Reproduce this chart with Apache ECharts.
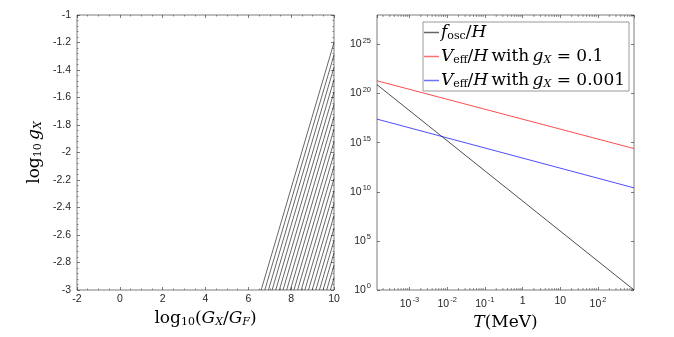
<!DOCTYPE html>
<html>
<head>
<meta charset="utf-8">
<script src="https://cdn.jsdelivr.net/npm/echarts@6/dist/echarts.min.js"></script>
<style>
  html, body { margin: 0; padding: 0; background: #fff; }
  #chart { width: 674px; height: 337px; }
</style>
</head>
<body>
<div id="chart"></div>
<script>
// left panel: hatched region, each hatch line runs from (x0, -3) to (10, yEnd)
const hatchStartX = [6.6, 6.77, 6.94, 7.11, 7.28, 7.45, 7.62, 7.79, 7.96, 8.13,
  8.30, 8.47, 8.64, 8.81, 8.98, 9.15, 9.32, 9.49, 9.66, 9.83]
const hatchEndY = [-1.20, -1.29, -1.38, -1.47, -1.56, -1.65, -1.74, -1.83, -1.92, -2.01,
  -2.10, -2.19, -2.28, -2.37, -2.46, -2.55, -2.64, -2.73, -2.82, -2.91]

// right panel: T in MeV (log axis) and the three ratios
const tempMeV = [1.38e-4, 900]
const fOscOverH = [8e20, 1]
const vEffHigh = [2e21, 2.5e14]   // g_X = 0.1
const vEffLow = [2.5e17, 2.5e10]  // g_X = 0.001

const serif = '"DejaVu Serif", "Liberation Serif", serif'
const sans = '"Liberation Sans", Arial, sans-serif'
const axisColor = '#262626'

const mathRich = {
  r: { fontFamily: serif, fontSize: 17, color: '#000' },
  i: { fontFamily: serif, fontSize: 17, fontStyle: 'italic', color: '#000' },
  sub: { fontFamily: serif, fontSize: 11, color: '#000', padding: [8, 0, 0, 0] },
  subi: { fontFamily: serif, fontSize: 11, fontStyle: 'italic', color: '#000', padding: [8, 0, 0, 0] }
}

const supRich = {
  b: { fontFamily: sans, fontSize: 10.5, color: axisColor },
  sup: { fontFamily: sans, fontSize: 7.5, color: axisColor, padding: [0, 0, 8, 1] }
}

function powLabel(v, showPlain) {
  const e = Math.round(Math.log10(v))
  if (showPlain && e === 0) return '{b|1}'
  if (showPlain && e === 1) return '{b|10}'
  return '{b|10}{sup|' + e + '}'
}

// log minor ticks for the T axis (2..9 x 10^k)
const minorT = []
for (let k = -4; k <= 2; k++) {
  for (let m = 2; m <= 9; m++) {
    const v = m * Math.pow(10, k)
    if (v > tempMeV[0] && v < tempMeV[1]) minorT.push([v, 1])
  }
}

const chart = echarts.init(document.getElementById('chart'))

const noLine = { show: false, onZero: false }
const tickIn = { inside: true, length: 3, lineStyle: { color: axisColor, width: 0.6 } }
const minorIn = n => ({ show: true, splitNumber: n, length: 1.5, lineStyle: { color: axisColor, width: 0.5 } })

const series = []
hatchStartX.forEach((x0, idx) => {
  series.push({
    type: 'line', xAxisIndex: 0, yAxisIndex: 0, symbol: 'none', silent: true,
    lineStyle: { color: '#000', width: 0.6 },
    data: [[x0, -3], [10, hatchEndY[idx]]]
  })
})

series.push(
  {
    name: 'fosc', type: 'line', xAxisIndex: 2, yAxisIndex: 2, symbol: 'none',
    color: '#000', lineStyle: { color: '#000', width: 0.7 },
    data: tempMeV.map((t, k) => [t, fOscOverH[k]])
  },
  {
    name: 'vhigh', type: 'line', xAxisIndex: 2, yAxisIndex: 2, symbol: 'none',
    color: '#ff0000', lineStyle: { color: '#ff0000', width: 0.7 },
    data: tempMeV.map((t, k) => [t, vEffHigh[k]])
  },
  {
    name: 'vlow', type: 'line', xAxisIndex: 2, yAxisIndex: 2, symbol: 'none',
    color: '#0000ff', lineStyle: { color: '#0000ff', width: 0.7 },
    data: tempMeV.map((t, k) => [t, vEffLow[k]])
  },
  {
    type: 'custom', xAxisIndex: 2, yAxisIndex: 2, silent: true, clip: false,
    data: minorT,
    renderItem(params, api) {
      const cs = params.coordSys
      const x = api.coord([api.value(0), 1])[0]
      const st = { stroke: axisColor, lineWidth: 0.5 }
      return {
        type: 'group',
        children: [
          { type: 'line', shape: { x1: x, y1: cs.y + cs.height, x2: x, y2: cs.y + cs.height - 2 }, style: st },
          { type: 'line', shape: { x1: x, y1: cs.y, x2: x, y2: cs.y + 2 }, style: st }
        ]
      }
    }
  }
)

const legendText = {
  fosc: '{i|f}{sub|osc}{r|/}{i|H}',
  vhigh: '{i|V}{sub|eff}{r|/}{i|H} {r|with} {i|g}{subi|X}{r| = 0.1}',
  vlow: '{i|V}{sub|eff}{r|/}{i|H} {r|with} {i|g}{subi|X}{r| = 0.001}'
}
const legendColor = { fosc: '#666', vhigh: '#ff7070', vlow: '#7070ff' }

chart.setOption({
  animation: false,
  grid: [
    { left: 77, top: 15, width: 257, height: 275, show: true, borderColor: axisColor, borderWidth: 0.6 },
    { left: 377, top: 15, width: 257, height: 275, show: true, borderColor: axisColor, borderWidth: 0.6 }
  ],
  legend: {
    data: ['fosc', 'vhigh', 'vlow'].map(n => ({
      name: n, icon: 'rect',
      itemStyle: { color: legendColor[n], borderColor: legendColor[n], borderWidth: 0 },
      lineStyle: { color: legendColor[n], width: 1 }
    })),
    orient: 'vertical',
    left: 423, top: 22,
    itemWidth: 15, itemHeight: 1.5, itemGap: 6,
    padding: [2, 4, 1, 1],
    backgroundColor: '#fff',
    borderColor: '#999', borderWidth: 1,
    formatter: name => legendText[name],
    textStyle: { rich: mathRich, padding: [0, 0, 0, -3] }
  },
  xAxis: [
    {
      gridIndex: 0, type: 'value', min: -2, max: 10, interval: 2,
      name: '{r|log}{sub|10}{r|(}{i|G}{subi|X}{r|/}{i|G}{subi|F}{r|)}',
      nameLocation: 'middle', nameGap: 15,
      nameTextStyle: { rich: mathRich },
      axisLine: noLine, axisTick: tickIn, minorTick: minorIn(4),
      splitLine: { show: false },
      axisLabel: { fontFamily: sans, fontSize: 10.5, color: axisColor, margin: 4 }
    },
    {
      gridIndex: 0, type: 'value', position: 'top', min: -2, max: 10, interval: 2,
      axisLine: noLine, axisTick: tickIn, minorTick: minorIn(4),
      splitLine: { show: false }, axisLabel: { show: false }
    },
    {
      gridIndex: 1, type: 'log', logBase: 10, min: tempMeV[0], max: tempMeV[1], splitNumber: 7,
      name: '{i|T}{r|(MeV)}',
      nameLocation: 'middle', nameGap: 15,
      nameTextStyle: { rich: mathRich },
      axisLine: noLine, axisTick: tickIn,
      splitLine: { show: false },
      axisLabel: {
        margin: 6, showMinLabel: false, showMaxLabel: false,
        formatter: v => powLabel(v, true), rich: supRich
      }
    },
    {
      gridIndex: 1, type: 'log', logBase: 10, position: 'top', min: tempMeV[0], max: tempMeV[1], splitNumber: 7,
      axisLine: noLine, axisTick: tickIn,
      splitLine: { show: false }, axisLabel: { show: false }
    }
  ],
  yAxis: [
    {
      gridIndex: 0, type: 'value', min: -3, max: -1, interval: 0.2,
      name: '{r|log}{sub|10} {i|g}{subi|X}',
      nameLocation: 'middle', nameGap: 33, nameRotate: 90,
      nameTextStyle: { rich: mathRich },
      axisLine: noLine, axisTick: tickIn, minorTick: minorIn(5),
      splitLine: { show: false },
      axisLabel: { fontFamily: sans, fontSize: 10.5, color: axisColor, margin: 6 }
    },
    {
      gridIndex: 0, type: 'value', position: 'right', min: -3, max: -1, interval: 0.2,
      axisLine: noLine, axisTick: tickIn, minorTick: minorIn(5),
      splitLine: { show: false }, axisLabel: { show: false }
    },
    {
      gridIndex: 1, type: 'log', logBase: 10, min: 1, max: 1e28, interval: 5,
      axisLine: noLine, axisTick: tickIn,
      splitLine: { show: false },
      axisLabel: {
        margin: 6, showMaxLabel: false,
        formatter: v => powLabel(v, false), rich: supRich
      }
    },
    {
      gridIndex: 1, type: 'log', logBase: 10, position: 'right', min: 1, max: 1e28, interval: 5,
      axisLine: noLine, axisTick: tickIn,
      splitLine: { show: false }, axisLabel: { show: false }
    }
  ],
  series: series
})
</script>
</body>
</html>
